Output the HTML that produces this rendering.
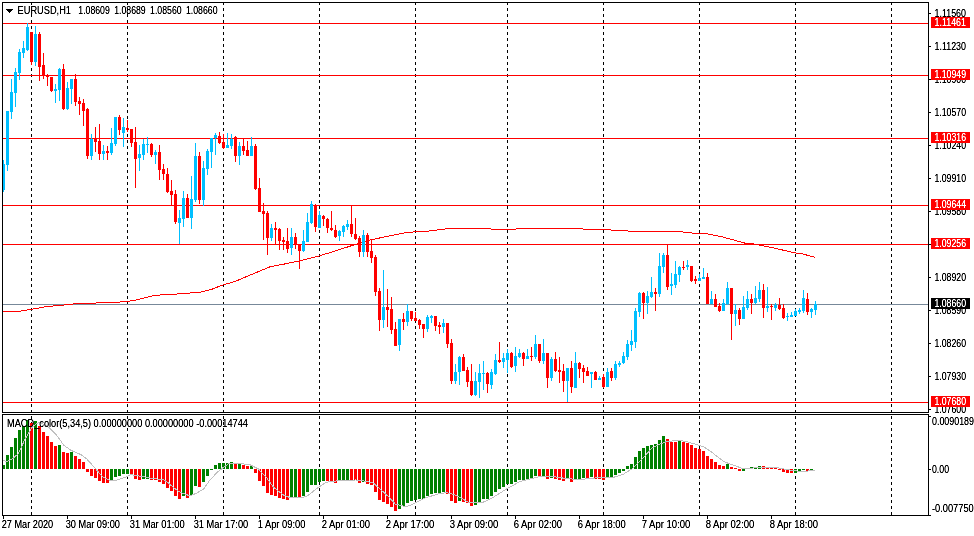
<!DOCTYPE html>
<html><head><meta charset="utf-8"><style>
html,body{margin:0;padding:0;background:#fff;width:974px;height:536px;overflow:hidden}
svg{display:block;font-family:"Liberation Sans",sans-serif;will-change:transform}
</style></head><body>
<svg width="974" height="536" viewBox="0 0 974 536" shape-rendering="crispEdges">
<defs><filter id="tb"><feComponentTransfer><feFuncA type="linear" slope="1.35" intercept="0"/></feComponentTransfer></filter><pattern id="dots" x="0" y="2" width="1" height="6" patternUnits="userSpaceOnUse"><rect width="1" height="3" fill="#000"/></pattern></defs>
<rect width="974" height="536" fill="#fff"/>
<rect x="31" y="3" width="1" height="409" fill="url(#dots)"/>
<rect x="31" y="415" width="1" height="100" fill="url(#dots)"/>
<rect x="127" y="3" width="1" height="409" fill="url(#dots)"/>
<rect x="127" y="415" width="1" height="100" fill="url(#dots)"/>
<rect x="223" y="3" width="1" height="409" fill="url(#dots)"/>
<rect x="223" y="415" width="1" height="100" fill="url(#dots)"/>
<rect x="319" y="3" width="1" height="409" fill="url(#dots)"/>
<rect x="319" y="415" width="1" height="100" fill="url(#dots)"/>
<rect x="415" y="3" width="1" height="409" fill="url(#dots)"/>
<rect x="415" y="415" width="1" height="100" fill="url(#dots)"/>
<rect x="507" y="3" width="1" height="409" fill="url(#dots)"/>
<rect x="507" y="415" width="1" height="100" fill="url(#dots)"/>
<rect x="603" y="3" width="1" height="409" fill="url(#dots)"/>
<rect x="603" y="415" width="1" height="100" fill="url(#dots)"/>
<rect x="699" y="3" width="1" height="409" fill="url(#dots)"/>
<rect x="699" y="415" width="1" height="100" fill="url(#dots)"/>
<rect x="795" y="3" width="1" height="409" fill="url(#dots)"/>
<rect x="795" y="415" width="1" height="100" fill="url(#dots)"/>
<rect x="891" y="3" width="1" height="409" fill="url(#dots)"/>
<rect x="891" y="415" width="1" height="100" fill="url(#dots)"/>
<rect x="3" y="23" width="925" height="1" fill="#ff0000"/>
<rect x="3" y="75" width="925" height="1" fill="#ff0000"/>
<rect x="3" y="138" width="925" height="1" fill="#ff0000"/>
<rect x="3" y="205" width="925" height="1" fill="#ff0000"/>
<rect x="3" y="244" width="925" height="1" fill="#ff0000"/>
<rect x="3" y="402" width="925" height="1" fill="#ff0000"/>
<rect x="3" y="304" width="925" height="1" fill="#778899"/>
<polyline fill="none" stroke="#ff0000" stroke-width="1" points="2.5,311 12,311.4 20,311.2 31,309.4 47,306.5 64,305 79,303.3 108,302.8 127,301.5 138,299.6 154,295.4 182,293.7 200,292.2 212,289.2 222,285.3 236,281.1 251,274.7 270,266.8 285,263.9 300,260.7 320,255.7 339.5,249.6 357,243.9 371.5,239.7 389,236 408,232.3 428,231.1 450,228.4 486,228.5 502,230 513,229.1 533,228.4 574,228.7 614,230.1 634,231.4 678,231.5 694,233.2 705,233.5 722,236.8 746,243.4 754,244 773,247.8 796,253.1 801,253.5 815,257.3"/>
<path fill="#00bfff" d="M3 160h1v32h-1zM3 164h2v26h-2zM7 111h1v60h-1zM6 111h3v54h-3zM11 79h1v40h-1zM10 92h3v20h-3zM15 68h1v39h-1zM14 72h3v21h-3zM19 49h1v31h-1zM18 52h3v21h-3zM23 41h1v17h-1zM22 48h3v5h-3zM27 23h1v28h-1zM26 27h3v23h-3zM35 26h1v40h-1zM34 34h3v28h-3zM55 84h1v19h-1zM54 89h3v2h-3zM59 68h1v33h-1zM58 69h3v21h-3zM67 82h1v28h-1zM66 88h3v21h-3zM71 79h1v25h-1zM70 79h3v10h-3zM91 134h1v26h-1zM90 139h3v17h-3zM103 145h1v15h-1zM102 151h3v3h-3zM111 128h1v27h-1zM110 143h3v10h-3zM115 117h1v29h-1zM114 117h3v27h-3zM123 118h1v29h-1zM122 127h3v6h-3zM139 145h1v26h-1zM138 154h3v4h-3zM143 139h1v21h-1zM142 144h3v11h-3zM147 137h1v16h-1zM146 144h3v1h-3zM155 150h1v14h-1zM154 152h3v3h-3zM179 210h1v34h-1zM178 218h3v5h-3zM183 191h1v36h-1zM182 198h3v21h-3zM191 176h1v53h-1zM190 199h3v19h-3zM195 143h1v59h-1zM194 156h3v44h-3zM203 161h1v45h-1zM202 168h3v32h-3zM207 149h1v26h-1zM206 151h3v18h-3zM211 138h1v30h-1zM210 138h3v14h-3zM215 133h1v22h-1zM214 135h3v3h-3zM227 133h1v15h-1zM226 145h3v3h-3zM231 134h1v15h-1zM230 139h3v7h-3zM239 142h1v23h-1zM238 146h3v10h-3zM251 137h1v19h-1zM250 146h3v10h-3zM271 224h1v17h-1zM270 228h3v10h-3zM291 228h1v27h-1zM290 237h3v11h-3zM303 230h1v22h-1zM302 241h3v10h-3zM307 213h1v29h-1zM306 222h3v20h-3zM311 201h1v23h-1zM310 204h3v19h-3zM319 211h1v17h-1zM318 215h3v13h-3zM339 230h1v11h-1zM338 231h3v5h-3zM343 225h1v12h-1zM342 226h3v6h-3zM347 220h1v10h-1zM346 224h3v3h-3zM363 230h1v27h-1zM362 235h3v17h-3zM383 270h1v58h-1zM382 307h3v13h-3zM399 319h1v32h-1zM398 319h3v26h-3zM407 304h1v22h-1zM406 311h3v11h-3zM427 315h1v17h-1zM426 317h3v12h-3zM431 315h1v8h-1zM430 316h3v2h-3zM443 319h1v14h-1zM442 323h3v4h-3zM455 364h1v20h-1zM454 372h3v9h-3zM459 356h1v29h-1zM458 357h3v15h-3zM475 372h1v24h-1zM474 381h3v14h-3zM479 364h1v34h-1zM478 373h3v9h-3zM483 361h1v29h-1zM482 373h3v1h-3zM491 369h1v20h-1zM490 372h3v13h-3zM495 354h1v21h-1zM494 360h3v14h-3zM503 353h1v15h-1zM502 358h3v4h-3zM507 349h1v24h-1zM506 353h3v7h-3zM515 347h1v25h-1zM514 356h3v10h-3zM519 349h1v9h-1zM518 353h3v4h-3zM527 349h1v10h-1zM526 356h3v3h-3zM535 335h1v24h-1zM534 344h3v13h-3zM543 339h1v25h-1zM542 353h3v8h-3zM551 357h1v24h-1zM550 359h3v19h-3zM567 368h1v34h-1zM566 368h3v13h-3zM575 352h1v36h-1zM574 363h3v25h-3zM591 372h1v16h-1zM590 372h3v2h-3zM599 376h1v4h-1zM598 378h3v2h-3zM607 368h1v19h-1zM606 372h3v15h-3zM615 361h1v19h-1zM614 364h3v14h-3zM619 361h1v6h-1zM618 363h3v2h-3zM623 352h1v12h-1zM622 356h3v7h-3zM627 340h1v20h-1zM626 344h3v13h-3zM631 330h1v21h-1zM630 341h3v4h-3zM635 308h1v40h-1zM634 311h3v31h-3zM639 292h1v25h-1zM638 293h3v19h-3zM647 291h1v23h-1zM646 296h3v7h-3zM651 277h1v21h-1zM650 292h3v5h-3zM659 253h1v44h-1zM658 266h3v28h-3zM663 253h1v20h-1zM662 255h3v12h-3zM671 273h1v22h-1zM670 284h3v2h-3zM675 261h1v27h-1zM674 274h3v11h-3zM679 266h1v16h-1zM678 267h3v8h-3zM687 260h1v10h-1zM686 265h3v2h-3zM699 274h1v7h-1zM698 278h3v3h-3zM703 268h1v11h-1zM702 277h3v2h-3zM711 291h1v13h-1zM710 299h3v5h-3zM723 299h1v12h-1zM722 303h3v8h-3zM727 282h1v23h-1zM726 288h3v16h-3zM735 304h1v22h-1zM734 310h3v4h-3zM743 296h1v23h-1zM742 307h3v12h-3zM747 291h1v19h-1zM746 299h3v9h-3zM755 286h1v18h-1zM754 298h3v5h-3zM759 282h1v20h-1zM758 290h3v9h-3zM767 287h1v25h-1zM766 306h3v2h-3zM775 303h1v8h-1zM774 305h3v3h-3zM787 313h1v8h-1zM786 316h3v1h-3zM791 312h1v5h-1zM790 315h3v2h-3zM795 309h1v7h-1zM794 311h3v5h-3zM799 308h1v6h-1zM798 310h3v2h-3zM803 290h1v23h-1zM802 298h3v13h-3zM811 308h1v10h-1zM810 309h3v3h-3zM815 301h1v14h-1zM814 304h3v6h-3z"/>
<path fill="#ff0000" d="M31 32h1v33h-1zM30 32h3v30h-3zM39 32h1v49h-1zM38 34h3v33h-3zM43 53h1v26h-1zM42 65h3v10h-3zM47 74h1v12h-1zM46 75h3v2h-3zM51 77h1v15h-1zM50 77h3v14h-3zM63 64h1v46h-1zM62 69h3v40h-3zM75 74h1v32h-1zM74 79h3v23h-3zM79 97h1v18h-1zM78 101h3v3h-3zM83 99h1v27h-1zM82 103h3v8h-3zM87 108h1v51h-1zM86 109h3v47h-3zM95 127h1v25h-1zM94 139h3v3h-3zM99 124h1v36h-1zM98 141h3v13h-3zM107 146h1v14h-1zM106 151h3v2h-3zM119 115h1v20h-1zM118 117h3v13h-3zM127 120h1v12h-1zM126 128h3v2h-3zM131 129h1v18h-1zM130 129h3v14h-3zM135 127h1v61h-1zM134 142h3v17h-3zM151 143h1v14h-1zM150 144h3v11h-3zM159 145h1v35h-1zM158 152h3v18h-3zM163 164h1v16h-1zM162 169h3v5h-3zM167 168h1v25h-1zM166 174h3v18h-3zM171 180h1v25h-1zM170 191h3v4h-3zM175 190h1v34h-1zM174 194h3v28h-3zM187 194h1v24h-1zM186 198h3v20h-3zM199 152h1v52h-1zM198 156h3v44h-3zM219 132h1v12h-1zM218 136h3v7h-3zM223 134h1v15h-1zM222 142h3v6h-3zM235 136h1v26h-1zM234 137h3v19h-3zM243 138h1v17h-1zM242 146h3v5h-3zM247 141h1v15h-1zM246 150h3v6h-3zM255 144h1v46h-1zM254 146h3v43h-3zM259 178h1v34h-1zM258 188h3v24h-3zM263 203h1v37h-1zM262 211h3v3h-3zM267 211h1v44h-1zM266 213h3v25h-3zM275 222h1v22h-1zM274 228h3v2h-3zM279 228h1v22h-1zM278 229h3v12h-3zM283 237h1v13h-1zM282 240h3v2h-3zM287 228h1v25h-1zM286 241h3v8h-3zM295 233h1v16h-1zM294 237h3v8h-3zM299 244h1v25h-1zM298 244h3v7h-3zM315 204h1v28h-1zM314 205h3v22h-3zM323 215h1v11h-1zM322 216h3v3h-3zM327 218h1v15h-1zM326 219h3v9h-3zM331 211h1v20h-1zM330 228h3v2h-3zM335 225h1v13h-1zM334 230h3v7h-3zM351 206h1v31h-1zM350 224h3v10h-3zM355 218h1v22h-1zM354 234h3v5h-3zM359 236h1v21h-1zM358 238h3v14h-3zM367 233h1v24h-1zM366 235h3v17h-3zM371 240h1v23h-1zM370 251h3v7h-3zM375 255h1v41h-1zM374 257h3v35h-3zM379 288h1v43h-1zM378 291h3v29h-3zM387 289h1v38h-1zM386 307h3v3h-3zM391 297h1v37h-1zM390 309h3v21h-3zM395 322h1v24h-1zM394 329h3v17h-3zM403 313h1v17h-1zM402 319h3v3h-3zM411 311h1v10h-1zM410 311h3v8h-3zM415 312h1v9h-1zM414 318h3v3h-3zM419 319h1v10h-1zM418 320h3v5h-3zM423 324h1v14h-1zM422 324h3v5h-3zM435 316h1v15h-1zM434 316h3v10h-3zM439 322h1v12h-1zM438 325h3v2h-3zM447 323h1v25h-1zM446 323h3v21h-3zM451 339h1v45h-1zM450 343h3v38h-3zM463 354h1v17h-1zM462 357h3v14h-3zM467 367h1v20h-1zM466 370h3v12h-3zM471 364h1v32h-1zM470 381h3v14h-3zM487 372h1v21h-1zM486 373h3v11h-3zM499 342h1v21h-1zM498 360h3v2h-3zM511 352h1v16h-1zM510 353h3v14h-3zM523 352h1v14h-1zM522 353h3v6h-3zM531 347h1v14h-1zM530 356h3v1h-3zM539 344h1v19h-1zM538 344h3v17h-3zM547 353h1v35h-1zM546 353h3v25h-3zM555 352h1v20h-1zM554 359h3v12h-3zM559 357h1v26h-1zM558 370h3v2h-3zM563 364h1v28h-1zM562 371h3v10h-3zM571 361h1v32h-1zM570 368h3v19h-3zM579 362h1v16h-1zM578 363h3v6h-3zM583 365h1v18h-1zM582 368h3v4h-3zM587 367h1v9h-1zM586 371h3v5h-3zM595 371h1v9h-1zM594 372h3v8h-3zM603 374h1v14h-1zM602 377h3v10h-3zM611 368h1v13h-1zM610 371h3v7h-3zM643 292h1v27h-1zM642 293h3v10h-3zM655 288h1v23h-1zM654 292h3v2h-3zM667 245h1v45h-1zM666 255h3v32h-3zM683 261h1v9h-1zM682 267h3v1h-3zM691 266h1v16h-1zM690 266h3v15h-3zM695 276h1v8h-1zM694 279h3v2h-3zM707 273h1v31h-1zM706 277h3v27h-3zM715 294h1v13h-1zM714 299h3v8h-3zM719 303h1v9h-1zM718 306h3v5h-3zM731 288h1v52h-1zM730 288h3v26h-3zM739 308h1v17h-1zM738 310h3v9h-3zM751 294h1v20h-1zM750 299h3v4h-3zM763 284h1v34h-1zM762 290h3v18h-3zM771 304h1v16h-1zM770 306h3v1h-3zM779 298h1v12h-1zM778 305h3v4h-3zM783 304h1v15h-1zM782 308h3v10h-3zM807 293h1v22h-1zM806 299h3v13h-3z"/>
<path fill="#008000" d="M3 465h2v4h-2zM6 455h3v14h-3zM10 447h3v22h-3zM14 438h3v31h-3zM18 430h3v39h-3zM22 426h3v43h-3zM26 420h3v49h-3zM34 421h3v48h-3zM58 445h3v24h-3zM70 452h3v17h-3zM110 469h3v12h-3zM114 469h3v8h-3zM118 469h3v7h-3zM122 469h3v5h-3zM126 469h3v5h-3zM142 469h3v10h-3zM146 469h3v10h-3zM182 469h3v27h-3zM190 469h3v26h-3zM194 469h3v17h-3zM202 469h3v13h-3zM206 469h3v7h-3zM210 469h3v1h-3zM214 465h3v4h-3zM218 463h3v6h-3zM222 463h3v6h-3zM226 463h3v6h-3zM230 462h3v7h-3zM238 464h3v5h-3zM250 466h3v3h-3zM290 469h3v29h-3zM294 469h3v29h-3zM302 469h3v27h-3zM306 469h3v23h-3zM310 469h3v16h-3zM314 469h3v16h-3zM318 469h3v13h-3zM322 469h3v12h-3zM338 469h3v12h-3zM342 469h3v12h-3zM346 469h3v11h-3zM362 469h3v13h-3zM398 469h3v40h-3zM402 469h3v37h-3zM406 469h3v34h-3zM410 469h3v32h-3zM414 469h3v31h-3zM418 469h3v30h-3zM422 469h3v30h-3zM426 469h3v27h-3zM430 469h3v25h-3zM434 469h3v24h-3zM438 469h3v24h-3zM442 469h3v23h-3zM458 469h3v32h-3zM474 469h3v36h-3zM478 469h3v33h-3zM482 469h3v30h-3zM486 469h3v30h-3zM490 469h3v27h-3zM494 469h3v23h-3zM498 469h3v20h-3zM502 469h3v18h-3zM506 469h3v15h-3zM510 469h3v15h-3zM514 469h3v13h-3zM518 469h3v11h-3zM522 469h3v11h-3zM526 469h3v10h-3zM530 469h3v9h-3zM534 469h3v7h-3zM542 469h3v7h-3zM550 469h3v9h-3zM566 469h3v10h-3zM574 469h3v11h-3zM578 469h3v10h-3zM582 469h3v9h-3zM590 469h3v8h-3zM606 469h3v9h-3zM610 469h3v9h-3zM614 469h3v6h-3zM618 469h3v4h-3zM622 469h3v2h-3zM626 466h3v3h-3zM630 464h3v5h-3zM634 457h3v12h-3zM638 451h3v18h-3zM642 448h3v21h-3zM646 446h3v23h-3zM650 445h3v24h-3zM654 444h3v25h-3zM658 440h3v29h-3zM662 436h3v33h-3zM678 441h3v28h-3zM726 464h3v5h-3zM742 469h3v2h-3zM750 467h3v2h-3zM754 467h3v2h-3zM758 466h3v3h-3zM794 469h3v4h-3zM798 469h3v3h-3zM802 469h3v1h-3zM810 469h3v1h-3z"/>
<path fill="#ff0000" d="M30 423h3v46h-3zM38 426h3v43h-3zM42 432h3v37h-3zM46 436h3v33h-3zM50 442h3v27h-3zM54 446h3v23h-3zM62 452h3v17h-3zM66 453h3v16h-3zM74 456h3v13h-3zM78 459h3v10h-3zM82 462h3v7h-3zM86 469h3v3h-3zM90 469h3v7h-3zM94 469h3v9h-3zM98 469h3v12h-3zM102 469h3v14h-3zM106 469h3v14h-3zM130 469h3v5h-3zM134 469h3v10h-3zM138 469h3v11h-3zM150 469h3v11h-3zM154 469h3v11h-3zM158 469h3v13h-3zM162 469h3v15h-3zM166 469h3v19h-3zM170 469h3v22h-3zM174 469h3v27h-3zM178 469h3v30h-3zM186 469h3v29h-3zM198 469h3v18h-3zM234 464h3v5h-3zM242 465h3v4h-3zM246 466h3v3h-3zM254 469h3v4h-3zM258 469h3v12h-3zM262 469h3v17h-3zM266 469h3v24h-3zM270 469h3v26h-3zM274 469h3v27h-3zM278 469h3v29h-3zM282 469h3v30h-3zM286 469h3v31h-3zM298 469h3v29h-3zM326 469h3v12h-3zM330 469h3v12h-3zM334 469h3v14h-3zM350 469h3v11h-3zM354 469h3v11h-3zM358 469h3v14h-3zM366 469h3v15h-3zM370 469h3v16h-3zM374 469h3v23h-3zM378 469h3v31h-3zM382 469h3v33h-3zM386 469h3v35h-3zM390 469h3v38h-3zM394 469h3v42h-3zM446 469h3v25h-3zM450 469h3v32h-3zM454 469h3v34h-3zM462 469h3v33h-3zM466 469h3v34h-3zM470 469h3v37h-3zM538 469h3v8h-3zM546 469h3v10h-3zM554 469h3v10h-3zM558 469h3v11h-3zM562 469h3v12h-3zM570 469h3v13h-3zM586 469h3v9h-3zM594 469h3v10h-3zM598 469h3v10h-3zM602 469h3v11h-3zM666 439h3v30h-3zM670 442h3v27h-3zM674 442h3v27h-3zM682 442h3v27h-3zM686 443h3v26h-3zM690 445h3v24h-3zM694 448h3v21h-3zM698 449h3v20h-3zM702 451h3v18h-3zM706 456h3v13h-3zM710 459h3v10h-3zM714 462h3v7h-3zM718 465h3v4h-3zM722 466h3v3h-3zM730 467h3v2h-3zM734 468h3v1h-3zM738 469h3v2h-3zM762 466h3v3h-3zM766 468h3v1h-3zM770 468h3v1h-3zM774 468h3v1h-3zM778 469h3v1h-3zM782 469h3v3h-3zM786 469h3v4h-3zM790 469h3v4h-3zM806 469h3v2h-3z"/>
<polyline fill="none" stroke="#c0c0c0" stroke-width="1" points="2.5,460.6 7.4,461.5 12.3,459 18.5,453.4 24.6,439.9 32,427.6 37,423.2 40.7,422.6 49.3,427.6 55.4,433.7 64,445.4 71.5,450.6 81.3,454.8 86.2,458.4 88.7,461.1 96,469.2 102.3,476.6 111,480.8 116,480.2 127,476.8 130.8,474.6 140.6,476.2 153,478.6 162.8,479.5 167.7,482.3 173.9,487.9 180,492.2 189.9,495.9 196,493.4 203.5,489.1 209.6,480.5 217,472.5 223.2,467.6 229.3,463.2 236,463.3 249.5,464.5 258.2,468.8 266.8,478 273,486.7 282.8,494.7 290.2,497.7 302.5,497.7 307.5,495.9 316,489.1 326,482.3 334.6,481.1 346.9,480.2 356,480 364.3,481.1 372.9,482.7 381.6,490.4 389,497.1 395.1,503.9 401.3,505.8 407.4,506.4 416,502.7 425.9,497.7 438.2,494 446.9,492.6 454.3,494.7 462.9,499 468,502 482.8,502.4 492.6,497.7 507.4,488.5 519.7,481.7 534.5,477.8 541.9,476.2 554.2,476.8 566.6,478.6 578.9,479.5 588,478.8 596.3,477.9 612.3,477.7 623.4,474.2 633.3,468 641.9,459.4 651.8,448.3 660.4,444 666.5,441.6 677.6,440.3 685,441.2 694.9,444 704,447 709.9,450.9 724.6,462 741.9,468.2 776.4,467.6 786.2,469.4 801,471.6 814.6,470.4"/>
<rect x="2" y="2" width="927" height="1" fill="#000"/>
<rect x="2" y="412" width="927" height="1" fill="#000"/>
<rect x="2" y="2" width="1" height="411" fill="#000"/>
<rect x="928" y="2" width="1" height="411" fill="#000"/>
<rect x="2" y="414" width="927" height="1" fill="#000"/>
<rect x="2" y="515" width="927" height="1" fill="#000"/>
<rect x="2" y="414" width="1" height="102" fill="#000"/>
<rect x="928" y="414" width="1" height="102" fill="#000"/>
<rect x="929" y="13" width="2" height="1" fill="#000"/>
<text x="934.5" y="17" fill="#000" font-size="10" textLength="31.5" lengthAdjust="spacingAndGlyphs" filter="url(#tb)">1.11560</text>
<rect x="929" y="46" width="2" height="1" fill="#000"/>
<text x="934.5" y="50" fill="#000" font-size="10" textLength="31.5" lengthAdjust="spacingAndGlyphs" filter="url(#tb)">1.11230</text>
<rect x="929" y="79" width="2" height="1" fill="#000"/>
<text x="934.5" y="83" fill="#000" font-size="10" textLength="31.5" lengthAdjust="spacingAndGlyphs" filter="url(#tb)">1.10900</text>
<rect x="929" y="112" width="2" height="1" fill="#000"/>
<text x="934.5" y="116" fill="#000" font-size="10" textLength="31.5" lengthAdjust="spacingAndGlyphs" filter="url(#tb)">1.10570</text>
<rect x="929" y="145" width="2" height="1" fill="#000"/>
<text x="934.5" y="149" fill="#000" font-size="10" textLength="31.5" lengthAdjust="spacingAndGlyphs" filter="url(#tb)">1.10240</text>
<rect x="929" y="178" width="2" height="1" fill="#000"/>
<text x="934.5" y="182" fill="#000" font-size="10" textLength="31.5" lengthAdjust="spacingAndGlyphs" filter="url(#tb)">1.09910</text>
<rect x="929" y="211" width="2" height="1" fill="#000"/>
<text x="934.5" y="215" fill="#000" font-size="10" textLength="31.5" lengthAdjust="spacingAndGlyphs" filter="url(#tb)">1.09580</text>
<rect x="929" y="244" width="2" height="1" fill="#000"/>
<text x="934.5" y="248" fill="#000" font-size="10" textLength="31.5" lengthAdjust="spacingAndGlyphs" filter="url(#tb)">1.09250</text>
<rect x="929" y="277" width="2" height="1" fill="#000"/>
<text x="934.5" y="281" fill="#000" font-size="10" textLength="31.5" lengthAdjust="spacingAndGlyphs" filter="url(#tb)">1.08920</text>
<rect x="929" y="310" width="2" height="1" fill="#000"/>
<text x="934.5" y="314" fill="#000" font-size="10" textLength="31.5" lengthAdjust="spacingAndGlyphs" filter="url(#tb)">1.08590</text>
<rect x="929" y="343" width="2" height="1" fill="#000"/>
<text x="934.5" y="347" fill="#000" font-size="10" textLength="31.5" lengthAdjust="spacingAndGlyphs" filter="url(#tb)">1.08260</text>
<rect x="929" y="376" width="2" height="1" fill="#000"/>
<text x="934.5" y="380" fill="#000" font-size="10" textLength="31.5" lengthAdjust="spacingAndGlyphs" filter="url(#tb)">1.07930</text>
<rect x="929" y="409" width="2" height="1" fill="#000"/>
<text x="934.5" y="413" fill="#000" font-size="10" textLength="31.5" lengthAdjust="spacingAndGlyphs" filter="url(#tb)">1.07600</text>
<rect x="931" y="17" width="39" height="11" fill="#ff0000"/>
<text x="934.5" y="26" fill="#fff" font-size="10" textLength="31.5" lengthAdjust="spacingAndGlyphs" filter="url(#tb)">1.11461</text>
<rect x="931" y="69" width="39" height="11" fill="#ff0000"/>
<text x="934.5" y="78" fill="#fff" font-size="10" textLength="31.5" lengthAdjust="spacingAndGlyphs" filter="url(#tb)">1.10949</text>
<rect x="931" y="132" width="39" height="11" fill="#ff0000"/>
<text x="934.5" y="141" fill="#fff" font-size="10" textLength="31.5" lengthAdjust="spacingAndGlyphs" filter="url(#tb)">1.10316</text>
<rect x="931" y="199" width="39" height="11" fill="#ff0000"/>
<text x="934.5" y="208" fill="#fff" font-size="10" textLength="31.5" lengthAdjust="spacingAndGlyphs" filter="url(#tb)">1.09644</text>
<rect x="931" y="238" width="39" height="11" fill="#ff0000"/>
<text x="934.5" y="247" fill="#fff" font-size="10" textLength="31.5" lengthAdjust="spacingAndGlyphs" filter="url(#tb)">1.09256</text>
<rect x="931" y="396" width="39" height="11" fill="#ff0000"/>
<text x="934.5" y="405" fill="#fff" font-size="10" textLength="31.5" lengthAdjust="spacingAndGlyphs" filter="url(#tb)">1.07680</text>
<rect x="931" y="298" width="39" height="11" fill="#000"/>
<text x="934.5" y="307" fill="#fff" font-size="10" textLength="31.5" lengthAdjust="spacingAndGlyphs" filter="url(#tb)">1.08660</text>
<rect x="929" y="416" width="2" height="1" fill="#000"/>
<rect x="929" y="469" width="2" height="1" fill="#000"/>
<rect x="929" y="515" width="2" height="1" fill="#000"/>
<text x="932" y="425" fill="#000" font-size="10" textLength="42" lengthAdjust="spacingAndGlyphs" filter="url(#tb)">0.0090189</text>
<text x="932" y="473" fill="#000" font-size="10" textLength="17" lengthAdjust="spacingAndGlyphs" filter="url(#tb)">0.00</text>
<text x="932" y="512" fill="#000" font-size="10" textLength="52" lengthAdjust="spacingAndGlyphs" filter="url(#tb)">-0.00775000</text>
<rect x="3" y="516" width="1" height="3" fill="#000"/>
<text x="1.7" y="528" fill="#000" font-size="10" textLength="51.5" lengthAdjust="spacingAndGlyphs" filter="url(#tb)">27 Mar 2020</text>
<rect x="67" y="516" width="1" height="3" fill="#000"/>
<text x="65.7" y="528" fill="#000" font-size="10" textLength="54.2" lengthAdjust="spacingAndGlyphs" filter="url(#tb)">30 Mar 09:00</text>
<rect x="131" y="516" width="1" height="3" fill="#000"/>
<text x="129.7" y="528" fill="#000" font-size="10" textLength="55" lengthAdjust="spacingAndGlyphs" filter="url(#tb)">31 Mar 01:00</text>
<rect x="195" y="516" width="1" height="3" fill="#000"/>
<text x="193.7" y="528" fill="#000" font-size="10" textLength="54.5" lengthAdjust="spacingAndGlyphs" filter="url(#tb)">31 Mar 17:00</text>
<rect x="259" y="516" width="1" height="3" fill="#000"/>
<text x="257.7" y="528" fill="#000" font-size="10" textLength="47.7" lengthAdjust="spacingAndGlyphs" filter="url(#tb)">1 Apr 09:00</text>
<rect x="323" y="516" width="1" height="3" fill="#000"/>
<text x="321.7" y="528" fill="#000" font-size="10" textLength="48.3" lengthAdjust="spacingAndGlyphs" filter="url(#tb)">2 Apr 01:00</text>
<rect x="387" y="516" width="1" height="3" fill="#000"/>
<text x="385.7" y="528" fill="#000" font-size="10" textLength="48.5" lengthAdjust="spacingAndGlyphs" filter="url(#tb)">2 Apr 17:00</text>
<rect x="451" y="516" width="1" height="3" fill="#000"/>
<text x="449.7" y="528" fill="#000" font-size="10" textLength="48.6" lengthAdjust="spacingAndGlyphs" filter="url(#tb)">3 Apr 09:00</text>
<rect x="515" y="516" width="1" height="3" fill="#000"/>
<text x="513.7" y="528" fill="#000" font-size="10" textLength="48.4" lengthAdjust="spacingAndGlyphs" filter="url(#tb)">6 Apr 02:00</text>
<rect x="579" y="516" width="1" height="3" fill="#000"/>
<text x="577.7" y="528" fill="#000" font-size="10" textLength="48" lengthAdjust="spacingAndGlyphs" filter="url(#tb)">6 Apr 18:00</text>
<rect x="643" y="516" width="1" height="3" fill="#000"/>
<text x="641.7" y="528" fill="#000" font-size="10" textLength="48.7" lengthAdjust="spacingAndGlyphs" filter="url(#tb)">7 Apr 10:00</text>
<rect x="707" y="516" width="1" height="3" fill="#000"/>
<text x="705.7" y="528" fill="#000" font-size="10" textLength="48.7" lengthAdjust="spacingAndGlyphs" filter="url(#tb)">8 Apr 02:00</text>
<rect x="771" y="516" width="1" height="3" fill="#000"/>
<text x="769.7" y="528" fill="#000" font-size="10" textLength="48.3" lengthAdjust="spacingAndGlyphs" filter="url(#tb)">8 Apr 18:00</text>
<path d="M6 9h7l-3.5 4z" fill="#000"/>
<text x="17.6" y="14" fill="#000" font-size="10" textLength="53.4" lengthAdjust="spacingAndGlyphs" filter="url(#tb)">EURUSD,H1</text>
<text x="78.3" y="14" fill="#000" font-size="10" textLength="31.5" lengthAdjust="spacingAndGlyphs" filter="url(#tb)">1.08609</text>
<text x="114.19999999999999" y="14" fill="#000" font-size="10" textLength="31.5" lengthAdjust="spacingAndGlyphs" filter="url(#tb)">1.08689</text>
<text x="150.1" y="14" fill="#000" font-size="10" textLength="31.5" lengthAdjust="spacingAndGlyphs" filter="url(#tb)">1.08560</text>
<text x="186.0" y="14" fill="#000" font-size="10" textLength="31.5" lengthAdjust="spacingAndGlyphs" filter="url(#tb)">1.08660</text>
<text x="7" y="427" fill="#000" font-size="10" textLength="241" lengthAdjust="spacingAndGlyphs" filter="url(#tb)">MACD_color(5,34,5) 0.00000000 0.00000000 -0.00014744</text>
</svg></body></html>
